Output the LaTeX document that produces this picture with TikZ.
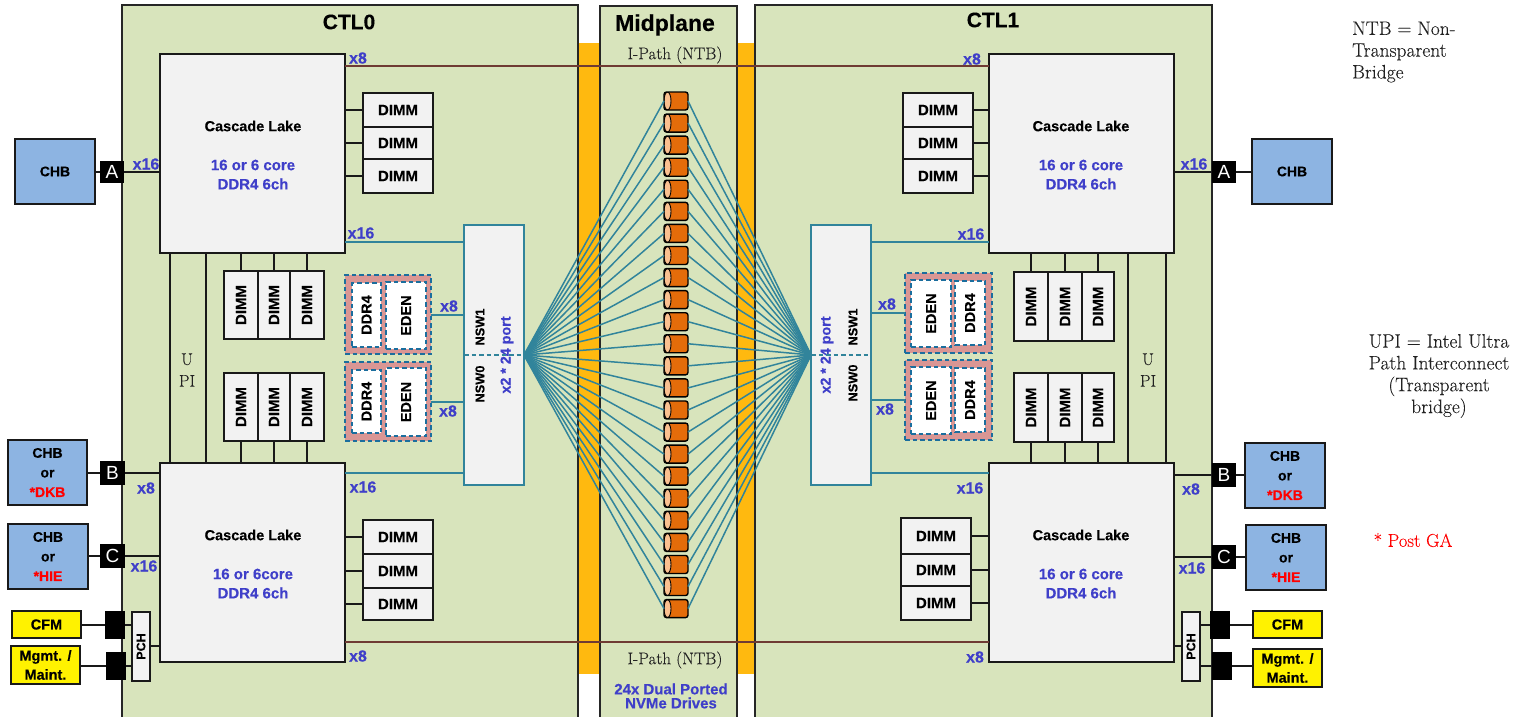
\documentclass[tikz,border=0pt]{standalone}
\usepackage{fontspec}
\usepackage{graphicx}
\setmainfont{Latin Modern Roman}[FakeBold=0.12]
\newfontfamily\lib{Liberation Sans}[BoldFeatures={FakeBold=0.25}]
\definecolor{panelg}{HTML}{D8E4BC}
\definecolor{cpug}{HTML}{F2F2F2}
\definecolor{chbb}{HTML}{8DB4E2}
\definecolor{bandor}{HTML}{FFB90F}
\definecolor{teal}{HTML}{31849B}
\definecolor{lblb}{HTML}{3F3FC9}
\definecolor{dashb}{HTML}{1B6E9E}
\definecolor{pinkm}{HTML}{D99694}
\definecolor{brownl}{HTML}{6F3B33}
\definecolor{drv}{HTML}{E46C0A}
\definecolor{drvl}{HTML}{FAC090}
\definecolor{redt}{HTML}{FF0000}
\definecolor{sertxt}{HTML}{222222}
\newcommand{\pxbox}[7]{%
  \node[#6,minimum width={(#4)-(#2)},minimum height={(#5)-(#3)}] (#1) at ({((#2)+(#4))/2},{((#3)+(#5))/2}) {#7};}
\newcommand{\up}[1]{\rotatebox{90}{#1}}
\newcommand{\bfs}[1]{\fontsize{#1}{#1}\selectfont\lib\bfseries}
\tikzset{
  basebox/.style={inner sep=0pt,outer sep=0pt,align=center,line width=2pt},
  panel/.style={basebox,draw=black!85,fill=panelg},
  cpu/.style={basebox,draw=black!90,fill=cpug},
  dimm/.style={basebox,draw=black!90,fill=cpug,font=\bfs{15}},
  chb/.style={basebox,draw=black!90,fill=chbb,font=\fontsize{14}{19.6}\selectfont\lib\bfseries},
  yel/.style={basebox,draw=black!90,fill=yellow,font=\fontsize{14.5}{19}\selectfont\lib\bfseries},
  port/.style={basebox,fill=black,text=white,font=\fontsize{19}{19}\selectfont\lib},
  pch/.style={basebox,draw=black!90,fill=cpug,line width=1.4pt,font=\bfs{12.5}},
  nsw/.style={basebox,draw=teal,fill=cpug,line width=1.7pt},
  mgrp/.style={basebox,fill=pinkm,draw=dashb,line width=1.4pt,dash pattern=on 4.5pt off 3pt},
  mcell/.style={basebox,fill=white,draw=dashb,line width=1.4pt,dash pattern=on 4.5pt off 3pt,font=\bfs{14.5}},
  drive/.style={basebox,draw=black,fill=drv,line width=1.4pt,rounded corners=2.5pt,minimum width=24pt,minimum height=18pt,
    path picture={\draw[fill=drvl,line width=.9pt] ([xshift=3.5pt]path picture bounding box.west) ellipse (3.5pt and 9pt);}},
  wire/.style={black!90,line width=2pt},
  twire/.style={teal,line width=1.7pt},
  fan/.style={teal,line width=1.5pt},
  ntb/.style={brownl,line width=2pt},
  lbl/.style={inner sep=0pt,text=lblb,font=\bfs{16}},
  head/.style={inner sep=0pt,font=\bfs{21}},
  cname/.style={inner sep=0pt,font=\bfs{14.5}},
  cblue/.style={inner sep=0pt,text=lblb,font=\bfs{15}},
  ser/.style={inner sep=0pt,font=\fontsize{17}{21.7}\selectfont,text=sertxt,align=center},
  note/.style={ser,font=\fontsize{19.5}{21.8}\selectfont},
  nswtxt/.style={inner sep=0pt,rotate=90,font=\bfs{12.8}},
  porttxt/.style={inner sep=0pt,rotate=90,text=lblb,font=\bfs{14.3}},
}
\begin{document}
\begin{tikzpicture}[x=1pt,y=-1pt]
\useasboundingbox (0,0) rectangle (1521,717);
% orange bands
\fill[bandor] (578,43) rectangle (600,674);
\fill[bandor] (737,43) rectangle (755,674);
% panels
\pxbox{ctl0}{122}{5}{578}{730}{panel}{}
\pxbox{ctl1}{755}{5}{1212}{730}{panel}{}
\pxbox{mid}{600}{6}{737}{730}{panel}{}
% titles
\node[head] (t0) at (349,22) {CTL0};
\node[head] (t1) at (993,20) {CTL1};
\node[head,font=\bfs{23}] (t2) at (665,25) {Midplane};
\node[ser] (ip1) at (675,55) {I-Path (NTB)};
\node[ser] (ip2) at (675,660) {I-Path (NTB)};
\node[inner sep=0pt,text=lblb,align=center,font=\fontsize{15}{14}\selectfont\lib\bfseries] (nv) at (671,696) {24x Dual Ported\\NVMe Drives};
% CPUs
\pxbox{cla}{160}{54}{345}{253}{cpu}{}
\pxbox{clb}{160}{463}{345}{662}{cpu}{}
\pxbox{cra}{989}{54}{1174}{253}{cpu}{}
\pxbox{crb}{989}{463}{1174}{662}{cpu}{}
\node[cname] (n1) at (253,126) {Cascade Lake};
\node[cblue] (n2) at (253,165) {16 or 6 core};
\node[cblue] (n3) at (253,184) {DDR4 6ch};
\node[cname] (n4) at (253,535) {Cascade Lake};
\node[cblue] (n5) at (253,574) {16 or 6core};
\node[cblue] (n6) at (253,593) {DDR4 6ch};
\node[cname] (n7) at (1081,126) {Cascade Lake};
\node[cblue] (n8) at (1081,165) {16 or 6 core};
\node[cblue] (n9) at (1081,184) {DDR4 6ch};
\node[cname] (n10) at (1081,535) {Cascade Lake};
\node[cblue] (n11) at (1081,574) {16 or 6 core};
\node[cblue] (n12) at (1081,593) {DDR4 6ch};
% horizontal DIMMs
\pxbox{da1}{363}{93}{433}{127}{dimm}{DIMM}
\pxbox{da2}{363}{127}{433}{159}{dimm}{DIMM}
\pxbox{da3}{363}{159}{433}{193}{dimm}{DIMM}
\pxbox{db1}{363}{520}{433}{554}{dimm}{DIMM}
\pxbox{db2}{363}{554}{433}{588}{dimm}{DIMM}
\pxbox{db3}{363}{588}{433}{620}{dimm}{DIMM}
\pxbox{dc1}{903}{93}{973}{127}{dimm}{DIMM}
\pxbox{dc2}{903}{127}{973}{159}{dimm}{DIMM}
\pxbox{dc3}{903}{159}{973}{193}{dimm}{DIMM}
\pxbox{dd1}{901}{518}{971}{554}{dimm}{DIMM}
\pxbox{dd2}{901}{554}{971}{586}{dimm}{DIMM}
\pxbox{dd3}{901}{586}{971}{620}{dimm}{DIMM}
% vertical DIMMs
\pxbox{va1}{224}{271}{258}{339}{dimm}{\up{DIMM}}
\pxbox{va2}{258}{271}{290}{339}{dimm}{\up{DIMM}}
\pxbox{va3}{290}{271}{324}{339}{dimm}{\up{DIMM}}
\pxbox{vb1}{224}{373}{258}{441}{dimm}{\up{DIMM}}
\pxbox{vb2}{258}{373}{290}{441}{dimm}{\up{DIMM}}
\pxbox{vb3}{290}{373}{324}{441}{dimm}{\up{DIMM}}
\pxbox{vc1}{1014}{272}{1048}{341}{dimm}{\up{DIMM}}
\pxbox{vc2}{1048}{272}{1082}{341}{dimm}{\up{DIMM}}
\pxbox{vc3}{1082}{272}{1114}{341}{dimm}{\up{DIMM}}
\pxbox{vd1}{1014}{373}{1048}{442}{dimm}{\up{DIMM}}
\pxbox{vd2}{1048}{373}{1082}{442}{dimm}{\up{DIMM}}
\pxbox{vd3}{1082}{373}{1114}{442}{dimm}{\up{DIMM}}
% memory groups
\pxbox{gl1}{345}{275}{431}{354}{mgrp}{}
\pxbox{gl2}{345}{362}{431}{441}{mgrp}{}
\pxbox{gr1}{905}{273}{992}{353}{mgrp}{}
\pxbox{gr2}{905}{360}{992}{440}{mgrp}{}
\pxbox{ml1}{352}{283}{381}{347}{mcell}{\up{DDR4}}
\pxbox{ml2}{386}{282}{426}{349}{mcell}{\up{EDEN}}
\pxbox{ml3}{352}{370}{381}{433}{mcell}{\up{DDR4}}
\pxbox{ml4}{386}{368}{426}{436}{mcell}{\up{EDEN}}
\pxbox{mr1}{911}{280}{951}{347}{mcell}{\up{EDEN}}
\pxbox{mr2}{955}{281}{985}{345}{mcell}{\up{DDR4}}
\pxbox{mr3}{911}{367}{951}{434}{mcell}{\up{EDEN}}
\pxbox{mr4}{955}{368}{985}{432}{mcell}{\up{DDR4}}
% switches
\pxbox{nswl}{464}{225}{524}{485}{nsw}{}
\pxbox{nswr}{811}{225}{871}{485}{nsw}{}
\node[nswtxt] (s1) at (480,327) {NSW1};
\node[nswtxt] (s2) at (480,384) {NSW0};
\node[porttxt] (s3) at (507,355) {x2 * 24 port};
\node[nswtxt] (s4) at (853,327) {NSW1};
\node[nswtxt] (s5) at (853,383) {NSW0};
\node[porttxt] (s6) at (827,355) {x2 * 24 port};
% hosts
\pxbox{chbal}{15}{139}{95}{204}{chb}{CHB}
\pxbox{chbbl}{8}{440}{87}{505}{chb}{CHB\\or\\\textcolor{redt}{*DKB}}
\pxbox{chbcl}{8}{524}{88}{589}{chb}{CHB\\or\\\textcolor{redt}{*HIE}}
\pxbox{cfml}{12}{611}{81}{638}{yel}{CFM}
\pxbox{mgml}{11}{646}{80}{684}{yel}{Mgmt. /\\Maint.}
\pxbox{chbar}{1252}{139}{1332}{204}{chb}{CHB}
\pxbox{chbbr}{1245}{443}{1325}{508}{chb}{CHB\\or\\\textcolor{redt}{*DKB}}
\pxbox{chbcr}{1246}{525}{1326}{590}{chb}{CHB\\or\\\textcolor{redt}{*HIE}}
\pxbox{cfmr}{1253}{611}{1322}{638}{yel}{CFM}
\pxbox{mgmr}{1253}{649}{1322}{687}{yel}{Mgmt. /\\Maint.}
% ports
\pxbox{pal}{100}{161}{124}{183}{port}{A}
\pxbox{pbl}{100}{461}{125}{485}{port}{B}
\pxbox{pcl}{100}{544}{125}{568}{port}{C}
\pxbox{pdl}{105}{611}{125}{639}{port}{}
\pxbox{pel}{106}{652}{126}{680}{port}{}
\pxbox{par}{1212}{161}{1236}{183}{port}{A}
\pxbox{pbr}{1212}{463}{1236}{487}{port}{B}
\pxbox{pcr}{1212}{545}{1236}{569}{port}{C}
\pxbox{pdr}{1210}{611}{1230}{639}{port}{}
\pxbox{per}{1212}{652}{1232}{680}{port}{}
\pxbox{pchl}{132}{612}{150}{681}{pch}{\up{PCH}}
\pxbox{pchr}{1182}{612}{1200}{681}{pch}{\up{PCH}}
% drives
\foreach \i in {1,...,24} {
  \pgfmathsetmacro{\yy}{101+22.07*(\i-1)}
  \node[drive] (dr\i) at (676,\yy) {};
}
% connectors
\coordinate (ntbtop) at (660,66);
\coordinate (ntbbot) at (660,642);
\draw[ntb] (cla.east |- ntbtop) -- (cra.west |- ntbtop);
\draw[ntb] (clb.east |- ntbbot) -- (crb.west |- ntbbot);
\foreach \i in {1,...,24} {
  \draw[fan] (nswl.east) -- (dr\i.west);
  \draw[fan] (nswr.west) -- (dr\i.east);
}
\draw[teal,line width=1.4pt,dash pattern=on 4.5pt off 3pt] (nswl.west) -- (nswl.east);
\draw[teal,line width=1.4pt,dash pattern=on 4.5pt off 3pt] (nswr.west) -- (nswr.east);
\draw[wire] (cla.east |- da1.west) -- (da1.west);
\draw[wire] (cla.east |- da2.west) -- (da2.west);
\draw[wire] (cla.east |- da3.west) -- (da3.west);
\draw[wire] (clb.east |- db1.west) -- (db1.west);
\draw[wire] (clb.east |- db2.west) -- (db2.west);
\draw[wire] (clb.east |- db3.west) -- (db3.west);
\draw[wire] (dc1.east) -- (cra.west |- dc1.east);
\draw[wire] (dc2.east) -- (cra.west |- dc2.east);
\draw[wire] (dc3.east) -- (cra.west |- dc3.east);
\draw[wire] (dd1.east) -- (crb.west |- dd1.east);
\draw[wire] (dd2.east) -- (crb.west |- dd2.east);
\draw[wire] (dd3.east) -- (crb.west |- dd3.east);
\foreach \a in {va1,va2,va3} \draw[wire] (\a.north |- cla.south) -- (\a.north);
\foreach \a in {vb1,vb2,vb3} \draw[wire] (\a.south) -- (\a.south |- clb.north);
\foreach \a in {vc1,vc2,vc3} \draw[wire] (\a.north |- cra.south) -- (\a.north);
\foreach \a in {vd1,vd2,vd3} \draw[wire] (\a.south) -- (\a.south |- crb.north);
\coordinate (u1) at (170,358);
\coordinate (u2) at (206,358);
\coordinate (u3) at (1128,358);
\coordinate (u4) at (1166,358);
\draw[wire] (u1 |- cla.south) -- (u1 |- clb.north);
\draw[wire] (u2 |- cla.south) -- (u2 |- clb.north);
\draw[wire] (u3 |- cra.south) -- (u3 |- crb.north);
\draw[wire] (u4 |- cra.south) -- (u4 |- crb.north);
\node[ser] (upil) at (187,370) {U\\PI};
\node[ser] (upir) at (1148,370) {U\\PI};
% host wires
\draw[wire] (chbal.east |- pal.west) -- (pal.west);
\draw[wire] (pal.east) -- (cla.west |- pal.east);
\draw[wire] (chbbl.east |- pbl.west) -- (pbl.west);
\draw[wire] (pbl.east) -- (clb.west |- pbl.east);
\draw[wire] (chbcl.east |- pcl.west) -- (pcl.west);
\draw[wire] (pcl.east) -- (clb.west |- pcl.east);
\draw[wire] (cfml.east |- pdl.west) -- (pdl.west);
\draw[wire] (pdl.east) -- (pchl.west |- pdl.east);
\draw[wire] (mgml.east |- pel.west) -- (pel.west);
\draw[wire] (pel.east) -- (pchl.west |- pel.east);
\draw[wire] (chbar.west |- par.east) -- (par.east);
\draw[wire] (par.west) -- (cra.east |- par.west);
\draw[wire] (chbbr.west |- pbr.east) -- (pbr.east);
\draw[wire] (pbr.west) -- (crb.east |- pbr.west);
\draw[wire] (chbcr.west |- pcr.east) -- (pcr.east);
\draw[wire] (pcr.west) -- (crb.east |- pcr.west);
\draw[wire] (cfmr.west |- pdr.east) -- (pdr.east);
\draw[wire] (pdr.west) -- (pchr.east |- pdr.west);
\draw[wire] (mgmr.west |- per.east) -- (per.east);
\draw[wire] (per.west) -- (pchr.east |- per.west);
\coordinate (pl) at (155,646);
\coordinate (pr) at (1178,646);
\draw[wire] (pchl.east |- pl) -- (clb.west |- pl);
\draw[wire] (crb.east |- pr) -- (pchr.west |- pr);
% teal links
\coordinate (ta) at (400,242);
\coordinate (tb) at (400,473);
\coordinate (tc) at (400,315);
\coordinate (td) at (400,402);
\coordinate (te) at (900,313);
\coordinate (tf) at (900,400);
\draw[twire] (cla.east |- ta) -- (nswl.west |- ta);
\draw[twire] (clb.east |- tb) -- (nswl.west |- tb);
\draw[twire] (gl1.east |- tc) -- (nswl.west |- tc);
\draw[twire] (gl2.east |- td) -- (nswl.west |- td);
\draw[twire] (nswr.east |- ta) -- (cra.west |- ta);
\draw[twire] (nswr.east |- tb) -- (crb.west |- tb);
\draw[twire] (nswr.east |- te) -- (gr1.west |- te);
\draw[twire] (nswr.east |- tf) -- (gr2.west |- tf);
% link labels
\node[lbl] (l1) at (146,164) {x16};
\node[lbl] (l2) at (146,488) {x8};
\node[lbl] (l3) at (144,566) {x16};
\node[lbl] (l4) at (358,58) {x8};
\node[lbl] (l5) at (361,233) {x16};
\node[lbl] (l6) at (363,487) {x16};
\node[lbl] (l7) at (358,656) {x8};
\node[lbl] (l8) at (449,306) {x8};
\node[lbl] (l9) at (448,411) {x8};
\node[lbl] (l10) at (972,59) {x8};
\node[lbl] (l11) at (971,234) {x16};
\node[lbl] (l12) at (970,488) {x16};
\node[lbl] (l13) at (975,657) {x8};
\node[lbl] (l14) at (887,304) {x8};
\node[lbl] (l15) at (885,409) {x8};
\node[lbl] (l16) at (1194,164) {x16};
\node[lbl] (l17) at (1191,489) {x8};
\node[lbl] (l18) at (1192,568) {x16};
% notes
\node[note,anchor=west,align=left] (ntbnote) at (1352,52) {NTB = Non-\\Transparent\\Bridge};
\node[note] (upinote) at (1439,376) {UPI = Intel Ultra\\Path Interconnect\\(Transparent\\bridge)};
\node[note,text=redt,font=\fontsize{18.5}{20}\selectfont] (post) at (1413,540) {* Post GA};
\end{tikzpicture}
\end{document}
